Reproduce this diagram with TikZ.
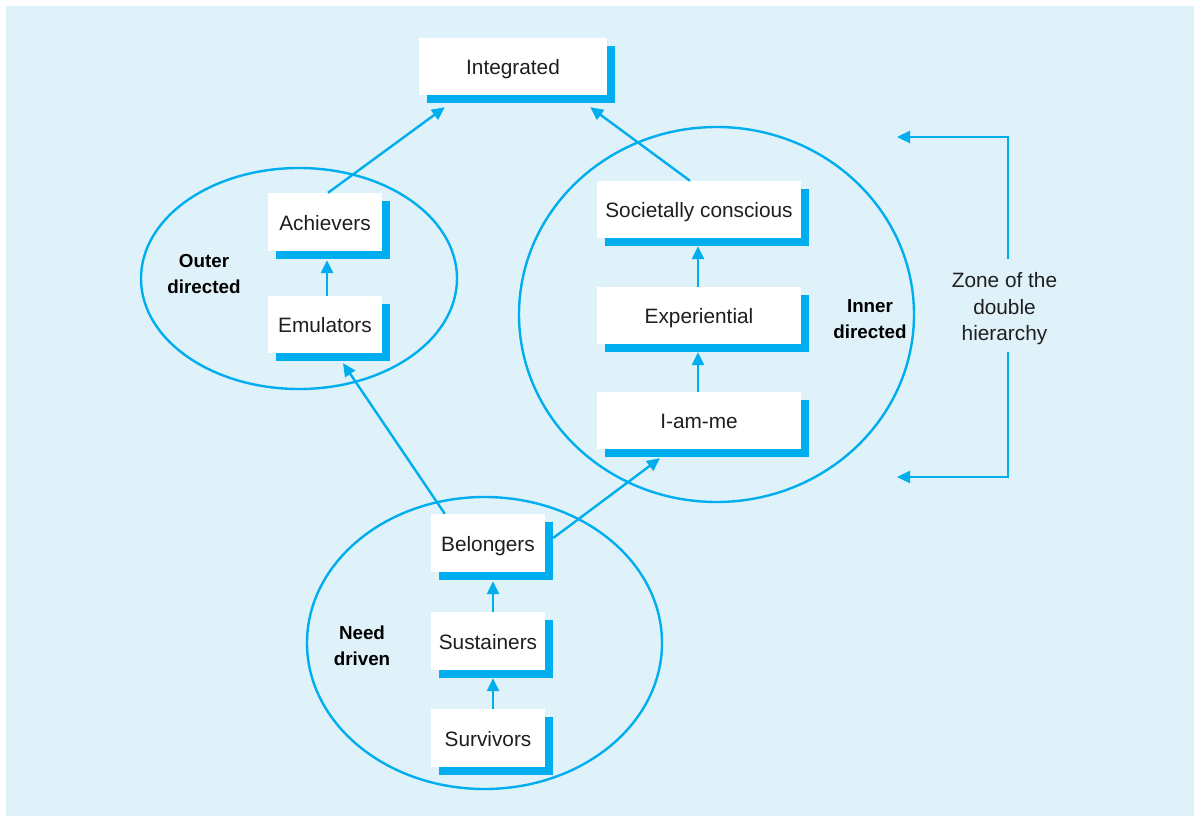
\documentclass[tikz,border=0pt]{standalone}
\usepackage{fontspec}
\setmainfont{Liberation Sans}
\usetikzlibrary{arrows.meta,shadows,calc}
\definecolor{bgblue}{RGB}{223,242,250}
\definecolor{lineblue}{RGB}{0,174,239}
\definecolor{inkgray}{RGB}{30,30,30}
\begin{document}
\begin{tikzpicture}[x=1pt,y=-1pt,
  stagebox/.style={fill=white, inner sep=0pt, text=inkgray,
    font=\fontsize{20.8}{24}\selectfont, text height=16.5pt, text depth=0pt,
    general shadow={fill=lineblue, shadow xshift=8pt, shadow yshift=-8pt}},
  groupname/.style={align=center, text=black, font=\bfseries\fontsize{18.8}{26}\selectfont},
  zonetext/.style={align=center, text=inkgray, font=\fontsize{20.8}{26.5}\selectfont},
  ring/.style={draw=lineblue, line width=2.4pt},
  link/.style={draw=lineblue, line width=2.4pt, -{Triangle[length=13pt,width=12pt]}}
]
\useasboundingbox (0,0) rectangle (1194,816);
\fill[white] (0,0) rectangle (1194,816);
\fill[bgblue] (6,6) rectangle (1194,816);

% group rings
\draw[ring] (299,278.5) ellipse [x radius=158pt, y radius=110.5pt];
\draw[ring] (716.5,314.5) ellipse [x radius=197.5pt, y radius=187.5pt];
\draw[ring] (484.5,643) ellipse [x radius=177.5pt, y radius=146pt];

% stages
\node[stagebox, minimum width=188pt, minimum height=57pt] (int) at (513,66.5) {Integrated};
\node[stagebox, minimum width=114pt, minimum height=58pt] (ach) at (325,222) {Achievers};
\node[stagebox, minimum width=114pt, minimum height=57pt] (emu) at (325,324.5) {Emulators};
\node[stagebox, minimum width=204pt, minimum height=57pt] (soc) at (699,209.5) {Societally conscious};
\node[stagebox, minimum width=204pt, minimum height=57pt] (exp) at (699,315.5) {Experiential};
\node[stagebox, minimum width=204pt, minimum height=57pt] (iam) at (699,420.5) {I-am-me};
\node[stagebox, minimum width=114pt, minimum height=58pt] (bel) at (488,543) {Belongers};
\node[stagebox, minimum width=114pt, minimum height=58pt] (sus) at (488,641) {Sustainers};
\node[stagebox, minimum width=114pt, minimum height=58pt] (sur) at (488,738) {Survivors};

% group names
\node[groupname] (outer) at (204,274) {Outer\\directed};
\node[groupname] (inner) at (870,319) {Inner\\directed};
\node[groupname] (need) at (362,646) {Need\\driven};

% links between stages
\draw[link] ($(ach.north)+(3,0)$) -- ($(int.south west)+(26,12)$);
\draw[link] ($(soc.north)+(-9,0)$) -- ($(int.south east)+(-17,12)$);
\draw[link] ($(emu.north)+(2,0)$) -- ($(ach.south)+(2,9)$);
\draw[link] ($(bel.north west)+(14,0)$) -- ($(emu.south)+(18,10)$);
\draw[link] ($(bel.east)+(8,-5)$) -- ($(iam.south)+(-39,9)$);
\draw[link] ($(sus.north)+(5,0)$) -- ($(bel.south)+(5,9)$);
\draw[link] ($(sur.north)+(5,0)$) -- ($(sus.south)+(5,8)$);
\draw[link] ($(iam.north)+(-1,0)$) -- ($(exp.south)+(-1,8)$);
\draw[link] ($(exp.north)+(-1,0)$) -- ($(soc.south)+(-1,8)$);

% zone of the double hierarchy
\node[zonetext] (zone) at (1004.5,309) {Zone of the\\double\\hierarchy};
\coordinate (zupper) at (1008,259);
\coordinate (zlower) at (1008,352);
\coordinate (ztop) at (897,137);
\coordinate (zbot) at (897,477);
\draw[link] (zupper) |- (ztop);
\draw[link] (zlower) |- (zbot);
\end{tikzpicture}
\end{document}
